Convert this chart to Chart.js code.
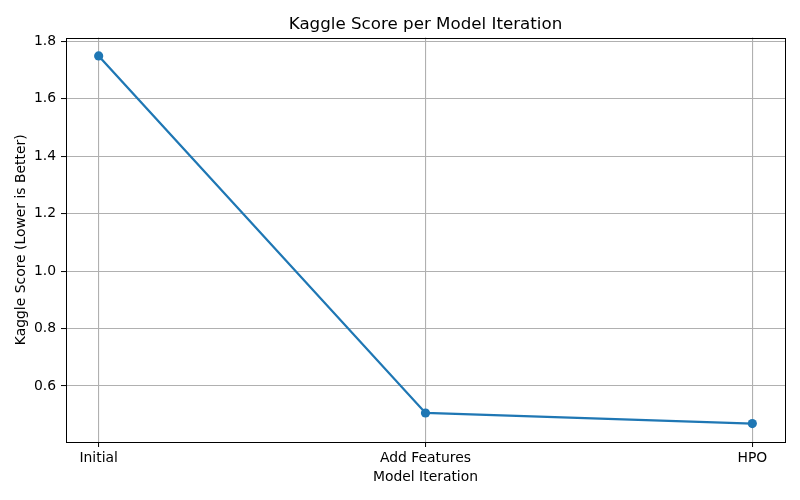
<!DOCTYPE html>
<html>
<head>
<meta charset="utf-8">
<script src="https://cdn.jsdelivr.net/npm/chart.js@4"></script>
<style>
html,body{margin:0;padding:0;background:#fff;}
#wrap{width:800px;height:500px;}
</style>
</head>
<body>
<div id="wrap"><canvas id="c" width="800" height="500"></canvas></div>
<script>
const categories = ["Initial", "Add Features", "HPO"];
const scores = [1.749, 0.506, 0.469];
const yTicks = [0.6, 0.8, 1.0, 1.2, 1.4, 1.6, 1.8];
const FONT = "'DejaVu Sans', sans-serif";

const frame = {
  id: 'frame',
  afterDraw(chart) {
    const a = chart.chartArea, ctx = chart.ctx;
    ctx.save();
    ctx.strokeStyle = '#000';
    ctx.lineWidth = 1;
    ctx.strokeRect(Math.round(a.left) + 0.5, Math.round(a.top) + 0.5, Math.round(a.right - a.left), Math.round(a.bottom - a.top));
    ctx.restore();
  }
};

new Chart(document.getElementById('c'), {
  type: 'line',
  data: {
    datasets: [{
      data: categories.map((c, i) => ({x: i, y: scores[i]})),
      borderColor: '#1f77b4',
      backgroundColor: '#1f77b4',
      borderWidth: 2.3,
      pointRadius: 4.6,
      pointHoverRadius: 4.6,
      pointBorderWidth: 0,
      tension: 0,
      fill: false
    }]
  },
  options: {
    responsive: false,
    animation: false,
    devicePixelRatio: 1,
    layout: {padding: {left: 0, right: 15, top: 0, bottom: 0}},
    plugins: {
      legend: {display: false},
      tooltip: {enabled: false},
      title: {
        display: true,
        fullSize: false,
        text: 'Kaggle Score per Model Iteration',
        color: '#000',
        font: {family: FONT, size: 16.7, weight: 'normal', lineHeight: 1.2},
        padding: {top: 15, bottom: 2.5}
      }
    },
    scales: {
      x: {
        type: 'linear',
        min: -0.1,
        max: 2.1,
        afterBuildTicks: (axis) => { axis.ticks = categories.map((c, i) => ({value: i})); },
        afterFit: (axis) => { axis.height = 58; },
        ticks: {
          color: '#000',
          font: {family: FONT, size: 13.9},
          padding: 3,
          maxRotation: 0,
          autoSkip: false,
          callback: (v) => categories[v]
        },
        grid: {color: '#b0b0b0', lineWidth: 1.1, tickColor: '#000', tickLength: 5, tickWidth: 1},
        border: {display: false},
        title: {
          display: true,
          text: 'Model Iteration',
          color: '#000',
          font: {family: FONT, size: 13.9, lineHeight: 1.2},
          padding: {top: 0, bottom: 14.7}
        }
      },
      y: {
        type: 'linear',
        min: 0.405,
        max: 1.813,
        afterBuildTicks: (axis) => { axis.ticks = yTicks.map(v => ({value: v})); },
        afterFit: (axis) => { axis.width = 66; },
        ticks: {
          color: '#000',
          font: {family: FONT, size: 13.9},
          padding: 5,
          callback: (v) => v.toFixed(1)
        },
        grid: {color: '#b0b0b0', lineWidth: 1.1, tickColor: '#000', tickLength: 5, tickWidth: 1},
        border: {display: false},
        title: {
          display: true,
          text: 'Kaggle Score (Lower is Better)',
          color: '#000',
          font: {family: FONT, size: 13.9, lineHeight: 1.2},
          padding: {top: 12.7, bottom: 0}
        }
      }
    }
  },
  plugins: [frame]
});
</script>
</body>
</html>
